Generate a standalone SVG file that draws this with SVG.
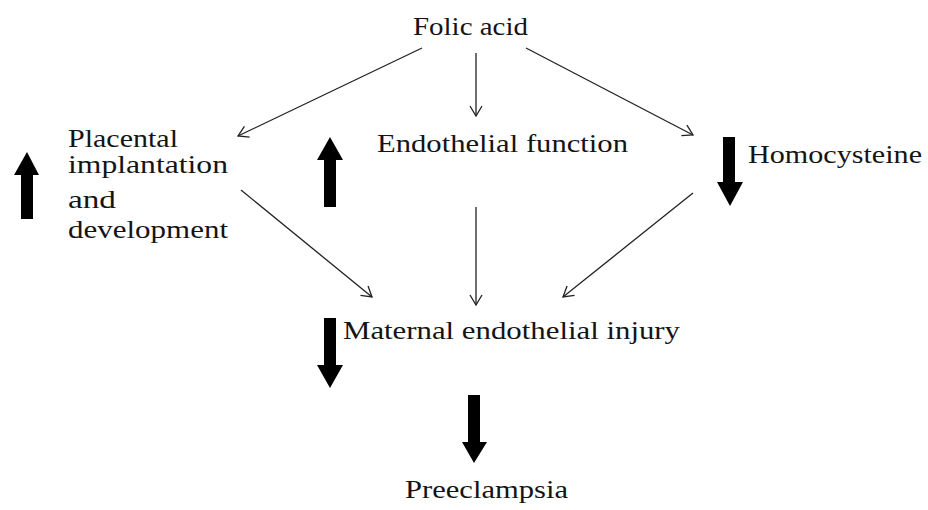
<svg xmlns="http://www.w3.org/2000/svg" width="928" height="510" viewBox="0 0 928 510">
<style>
text{font-family:"Liberation Serif","DejaVu Serif",serif;font-size:26px;fill:#141414}
.c{stroke:#222;stroke-width:1.3;fill:none;marker-end:url(#v)}
.b{fill:#000}
</style>
<defs>
<marker id="v" markerUnits="userSpaceOnUse" markerWidth="14" markerHeight="16" refX="11" refY="7" orient="auto" viewBox="0 0 14 14">
<path d="M1,1 L11,7 L1,13" fill="none" stroke="#222" stroke-width="1.3"/>
</marker>
</defs>
<rect width="928" height="510" fill="#fff"/>
<g id="connectors">
<line class="c" x1="422" y1="48" x2="238" y2="136"/>
<line class="c" x1="476" y1="53" x2="476" y2="116"/>
<line class="c" x1="526" y1="48" x2="693" y2="135"/>
<line class="c" x1="241" y1="190" x2="372" y2="297"/>
<line class="c" x1="476" y1="207" x2="476" y2="305"/>
<line class="c" x1="693" y1="193" x2="563" y2="297"/>
</g>
<g id="folic"><text x="413" y="35" textLength="115" lengthAdjust="spacingAndGlyphs">Folic acid</text></g>
<g id="placental">
<path class="b" d="M21,219 L33,219 L33,175 L39,175 L27,152 L14,175 L21,175 Z"/>
<text x="68" y="147" textLength="110" lengthAdjust="spacingAndGlyphs">Placental</text>
<text x="68" y="173" textLength="160" lengthAdjust="spacingAndGlyphs">implantation</text>
<text x="68" y="208" textLength="48" lengthAdjust="spacingAndGlyphs">and</text>
<text x="68" y="238" textLength="160" lengthAdjust="spacingAndGlyphs">development</text>
</g>
<g id="endothelial">
<path class="b" d="M324,207 L336,207 L336,160 L343,160 L330,137 L317,160 L324,160 Z"/>
<text x="377" y="152" textLength="251" lengthAdjust="spacingAndGlyphs">Endothelial function</text>
</g>
<g id="homocysteine">
<path class="b" d="M723,137 L735,137 L735,182 L743,182 L730,206 L717,182 L723,182 Z"/>
<text x="748" y="163" textLength="174" lengthAdjust="spacingAndGlyphs">Homocysteine</text>
</g>
<g id="maternal">
<path class="b" d="M324,318 L336,318 L336,365 L343,365 L330,388 L317,365 L324,365 Z"/>
<text x="343" y="339" textLength="337" lengthAdjust="spacingAndGlyphs">Maternal endothelial injury</text>
</g>
<g id="preeclampsia">
<path class="b" d="M468,395 L480,395 L480,442 L487,442 L474,463 L462,442 L468,442 Z"/>
<text x="405" y="498" textLength="163" lengthAdjust="spacingAndGlyphs">Preeclampsia</text>
</g>
</svg>
